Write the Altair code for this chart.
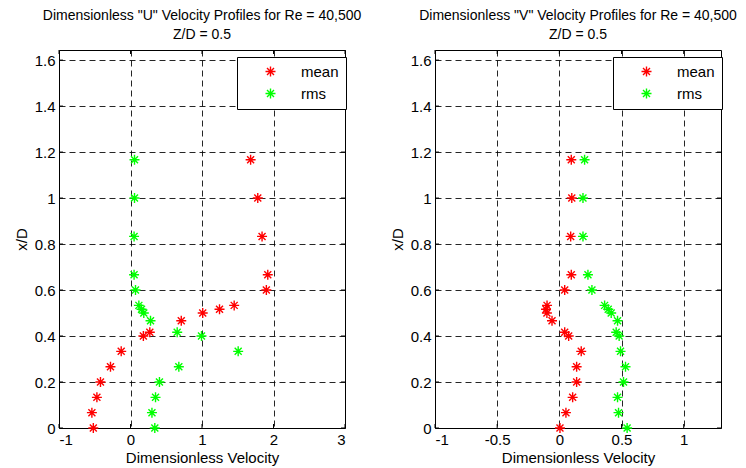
import altair as alt
import pandas as pd

# x/D stations (shared by all profiles)
x_over_d = [0.0, 0.0667, 0.1333, 0.2, 0.2667, 0.3333, 0.4, 0.4167, 0.4667,
            0.5, 0.5167, 0.5333, 0.6, 0.6667, 0.8333, 1.0, 1.1667]

# "U" profiles
u_mean = [-0.52, -0.54, -0.47, -0.42, -0.28, -0.13, 0.18, 0.27, 0.71,
          1.01, 1.245, 1.45, 1.90, 1.92, 1.84, 1.78, 1.68]
u_rms = [0.34, 0.30, 0.35, 0.405, 0.676, 1.506, 0.993, 0.653, 0.28,
         0.186, 0.154, 0.117, 0.07, 0.05, 0.05, 0.056, 0.056]

# "V" profiles
v_mean = [0.005, 0.053, 0.107, 0.139, 0.139, 0.176, 0.075, 0.043, -0.059,
          -0.10, -0.107, -0.099, 0.043, 0.096, 0.091, 0.10, 0.096]
v_rms = [0.545, 0.476, 0.468, 0.516, 0.532, 0.492, 0.481, 0.457, 0.468,
         0.417, 0.393, 0.364, 0.262, 0.23, 0.19, 0.19, 0.203]

series_names = ["mean", "rms"]
series_colors = ["#ff0000", "#00ff00"]

u_xticks = [-1, 0, 1, 2, 3]
v_xticks = [-1, -0.5, 0, 0.5, 1]
yticks = [0, 0.2, 0.4, 0.6, 0.8, 1.0, 1.2, 1.4, 1.6]

titles = [
    ['Dimensionless "U" Velocity Profiles for Re = 40,500', "Z/D = 0.5"],
    ['Dimensionless "V" Velocity Profiles for Re = 40,500', "Z/D = 0.5"],
]

STAR = "M-1,0L1,0M0,-1L0,1M-0.7,-0.7L0.7,0.7M-0.7,0.7L0.7,-0.7"
FONT = "Liberation Sans"
W, H, TICK = 286, 378, 4


def frame(mean, rms):
    rows = []
    for name, vals in zip(series_names, [mean, rms]):
        for xv, yv in zip(vals, x_over_d):
            rows.append({"vel": xv, "xd": yv, "series": name})
    return pd.DataFrame(rows)


def panel(df, xdomain, xticks, title):
    xscale = alt.Scale(domain=xdomain, nice=False, zero=False)
    yscale = alt.Scale(domain=[0, 1.644], nice=False)
    pts = alt.Chart(df).mark_point(
        shape=STAR, filled=False, size=100, strokeWidth=1.4, opacity=1
    ).encode(
        x=alt.X("vel:Q", scale=xscale,
                axis=alt.Axis(values=xticks, labelExpr="toString(datum.value)",
                              title="Dimensionless Velocity")),
        y=alt.Y("xd:Q", scale=yscale,
                axis=alt.Axis(values=yticks, labelExpr="toString(datum.value)", title="x/D")),
        color=alt.Color("series:N",
                        scale=alt.Scale(domain=series_names, range=series_colors),
                        legend=alt.Legend(title=None, orient="none", legendX=178, legendY=7,
                                          strokeColor="black", fillColor="white", padding=7,
                                          symbolType=STAR, symbolSize=100, symbolStrokeWidth=1.4,
                                          symbolOffset=19, labelOffset=23, rowPadding=5,
                                          labelFontSize=15, labelFont=FONT, labelColor="black")),
    )
    xt = alt.Chart(pd.DataFrame({"t": xticks})).mark_rule(color="black", strokeWidth=1)
    yt = alt.Chart(pd.DataFrame({"t": yticks})).mark_rule(color="black", strokeWidth=1)
    top = xt.encode(x=alt.X("t:Q", scale=xscale), y=alt.value(0), y2=alt.value(TICK))
    bot = xt.encode(x=alt.X("t:Q", scale=xscale), y=alt.value(H - TICK), y2=alt.value(H))
    lft = yt.encode(y=alt.Y("t:Q", scale=yscale), x=alt.value(0), x2=alt.value(TICK))
    rgt = yt.encode(y=alt.Y("t:Q", scale=yscale), x=alt.value(W - TICK), x2=alt.value(W))
    return alt.layer(top, bot, lft, rgt, pts).properties(
        width=W, height=H,
        title=alt.TitleParams(title, fontSize=14, font=FONT, fontWeight="normal",
                              color="black", anchor="middle", frame="group",
                              lineHeight=19, offset=8),
    )


left = panel(frame(u_mean, u_rms), [-1, 3], u_xticks, titles[0])
right = panel(frame(v_mean, v_rms), [-1, 1.3], v_xticks, titles[1])

chart = alt.hconcat(left, right, spacing=90, bounds="flush").resolve_scale(
    color="independent"
).properties(
    padding={"left": 5, "top": 0, "right": 0, "bottom": 0}
).configure_view(
    stroke="black", strokeWidth=1
).configure_axis(
    labelFont=FONT, labelFontSize=15, labelColor="black", labelPadding=5,
    titleFont=FONT, titleFontSize=15, titleFontWeight="normal", titleColor="black",
    ticks=False, domain=False,
    grid=True, gridColor="black", gridDash=[6, 4], gridWidth=1, gridOpacity=0.85,
).configure_axisY(
    titlePadding=5, labelPadding=4
).configure_axisX(
    titlePadding=3, labelPadding=4
)

chart.save("out.html", embed_options={"renderer": "svg", "actions": False})
